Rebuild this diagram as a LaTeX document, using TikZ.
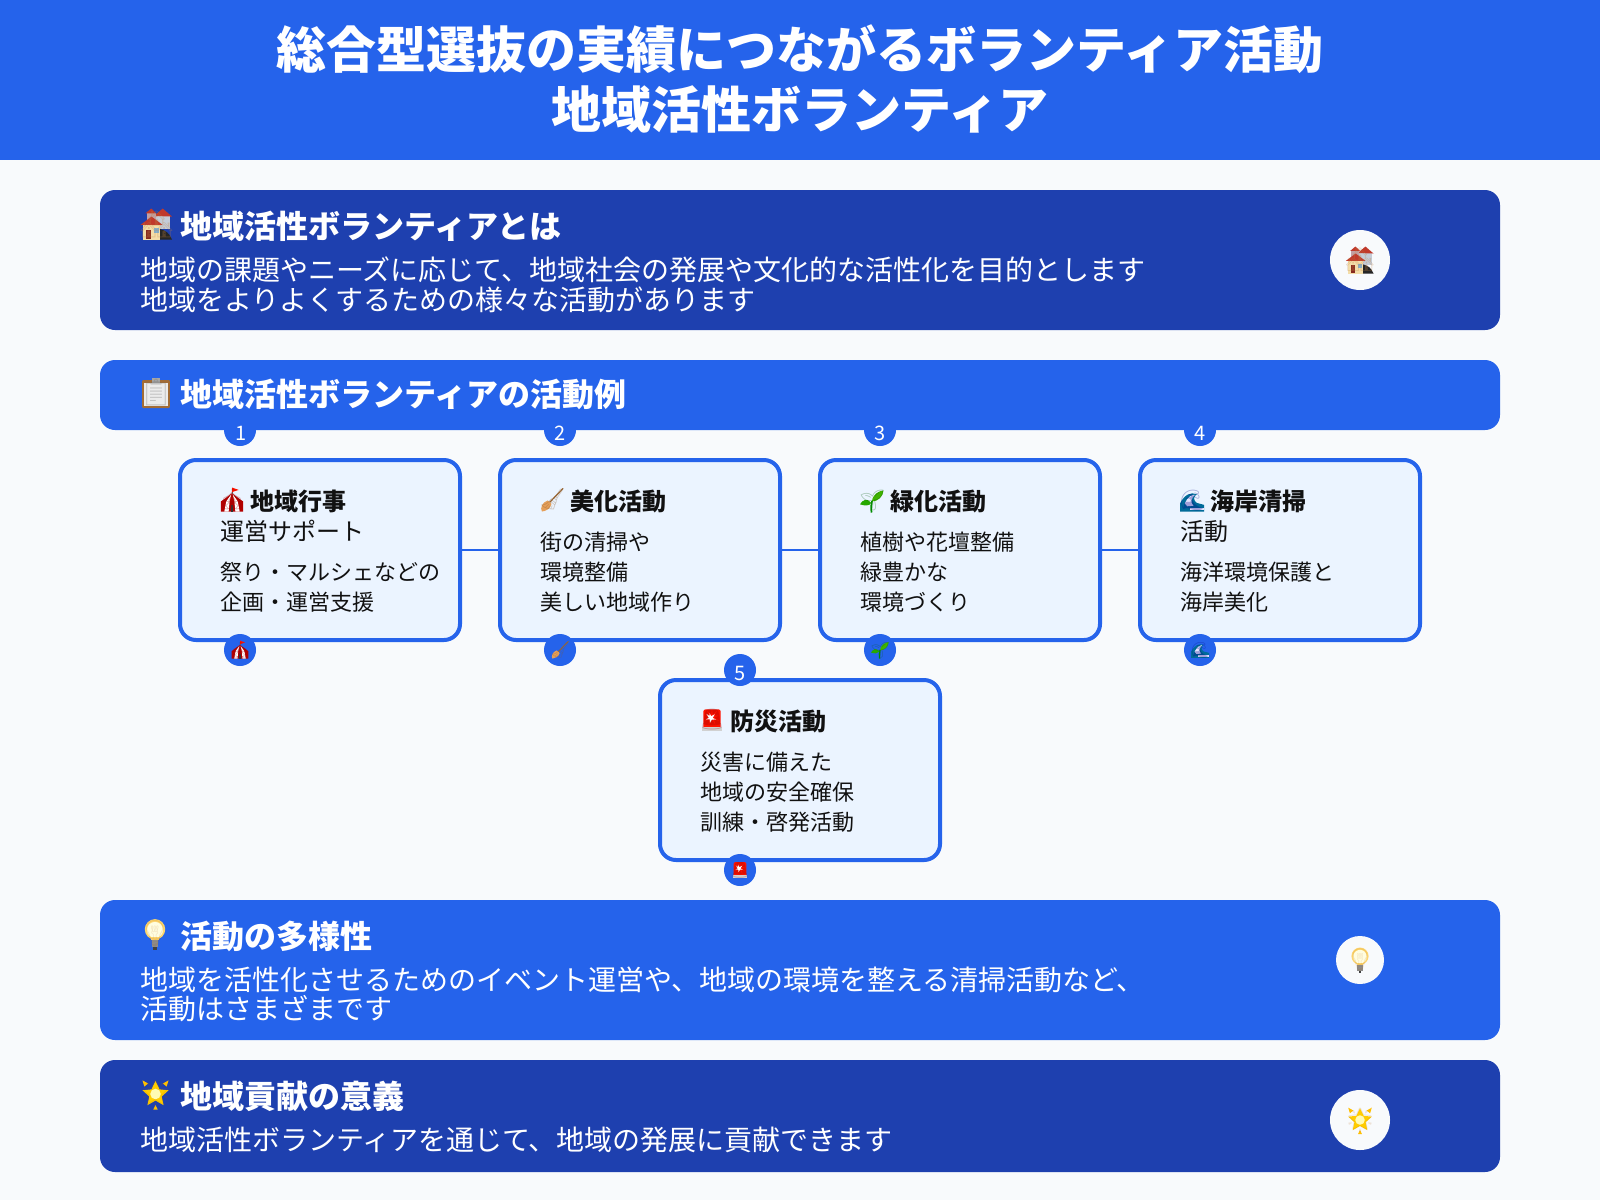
\documentclass[tikz,border=0pt]{standalone}
\usepackage{fontspec}
\setmainfont{Noto Sans CJK JP}
\newfontfamily\emofont{Noto Emoji}
\definecolor{bgc}{HTML}{F8FAFC}
\definecolor{blu}{HTML}{2563EB}
\definecolor{dark}{HTML}{1E40AF}
\definecolor{cardc}{HTML}{EBF4FF}
\definecolor{ink}{HTML}{111111}
\newcommand{\fsz}[1]{\fontsize{#1}{#1}\selectfont}
\tikzset{
  txt/.style={inner sep=0pt,outer sep=0pt,text height=#1*.88pt,text depth=#1*.12pt,font=\fsz{#1}},
  ltxt/.style={txt=#1,anchor=west},
  ptitle/.style={ltxt=32,text=white,font=\fsz{32}\bfseries},
  pbody/.style={ltxt=28,text=white},
  ctitle/.style={ltxt=24,text=ink,font=\fsz{24}\bfseries},
  csub/.style={ltxt=24,text=ink},
  cbody/.style={ltxt=22,text=ink},
  numtxt/.style={text=white,font=\fsz{20},inner sep=0pt},
  panel/.style={rectangle,rounded corners=15pt,minimum width=1400pt,inner sep=0pt,fill=#1},
  card/.style={rectangle,rounded corners=16pt,draw=blu,line width=4pt,fill=cardc,minimum width=280pt,minimum height=180pt,inner sep=0pt},
  badge/.style={circle,fill=blu,minimum size=32pt,inner sep=0pt},
  disc/.style={circle,fill=bgc,inner sep=0pt,minimum size=#1},
  conn/.style={draw=blu,line width=2pt},
  emo/.style={inner sep=0pt,outer sep=0pt,font=\emofont\fsz{#1}},
}
% Emoji: coloured underlay + real glyph. #1 name, #2 x, #3 y, #4 size
\newcommand{\glyphOn}[4]{\pgfmathsetmacro{\gs}{#3*.85}\node[emo=\gs,text=#4,text opacity=.3] (#1) at (0,0) {#2};}
\newcommand{\emoHouse}[4]{\begin{scope}[shift={(#2,#3)},x=#4pt,y=-#4pt]
  \fill[HG] (-.02,-.28) rectangle (.44,.17);
  \fill[HR] (-.08,-.26)--(.2,-.5)--(.5,-.24)--cycle;
  \fill[HG!70!HR] (-.32,-.36) rectangle (-.02,-.1);
  \fill[HR] (-.36,-.34)--(-.17,-.5)--(.0,-.34)--cycle;
  \fill[black!85] (.1,.16) .. controls (.3,.2) and (.42,.3) .. (.5,.5) -- (.1,.5) --cycle;
  \fill[HC] (-.44,-.03) rectangle (.12,.5);
  \fill[HR] (-.52,.03)--(-.16,-.24)--(.2,.03)--cycle;
  \fill[HR!70!black] (-.34,.18) rectangle (-.18,.48);
  \fill[HB] (-.08,.14) rectangle (.08,.3);
  \glyphOn{#1}{🏘}{#4}{brown}
\end{scope}}
\definecolor{HG}{HTML}{C4CCD8}\definecolor{HR}{HTML}{C0392B}\definecolor{HC}{HTML}{F3DDA9}\definecolor{HB}{HTML}{7FB2D6}
\newcommand{\emoClip}[4]{\begin{scope}[shift={(#2,#3)},x=#4pt,y=-#4pt]
  \fill[brown!85!black,rounded corners=1pt] (-.45,-.4) rectangle (.45,.5);
  \fill[black!8] (-.38,-.32) rectangle (.38,.42);
  \fill[black!35] (-.14,-.48) rectangle (.14,-.3);
  \glyphOn{#1}{📋}{#4}{black!60}
\end{scope}}
\newcommand{\emoTent}[4]{\begin{scope}[shift={(#2,#3)},x=#4pt,y=-#4pt]
  \fill[red!70!black] (-.46,.48) -- (-.46,.06) -- (0,-.28) -- (.46,.06) -- (.46,.48) -- cycle;
  \fill[white] (-.32,.48)--(-.24,.06)--(-.03,-.24)--(-.1,.06)--(-.14,.48)--cycle;
  \fill[white] (.32,.48)--(.24,.06)--(.03,-.24)--(.1,.06)--(.14,.48)--cycle;
  \fill[black!80] (-.06,.2) rectangle (.06,.48);
  \draw[black!60,line width=.6pt] (0,-.26) -- (0,-.5);
  \fill[red!85!orange] (0,-.52)--(.28,-.42)--(0,-.33)--cycle;
  \glyphOn{#1}{🎪}{#4}{red!60!black}
\end{scope}}
\newcommand{\emoBroom}[4]{\begin{scope}[shift={(#2,#3)},x=#4pt,y=-#4pt]
  \draw[brown!80!black,line width=.05*#4pt,line cap=round] (.46,-.48) -- (-.14,.14);
  \fill[brown!55!orange!75!white] (-.18,.02) -- (-.02,.16) .. controls (-.06,.36) and (-.24,.46) .. (-.42,.48) .. controls (-.5,.34) and (-.42,.1) .. (-.18,.02) -- cycle;
  \glyphOn{#1}{🧹}{#4}{brown!70!black}
\end{scope}}
\newcommand{\emoSprout}[4]{\begin{scope}[shift={(#2,#3)},x=#4pt,y=-#4pt]
  \draw[green!55!black,line width=.07*#4pt] (.0,.0) .. controls (-.05,.15) and (-.04,.3) .. (-.02,.48);
  \fill[green!60!black!85!yellow] (-.03,.08) .. controls (-.2,-.14) and (-.4,-.05) .. (-.5,.14) .. controls (-.3,.2) and (-.12,.22) .. (-.03,.08) -- cycle;
  \fill[green!60!black!75!yellow] (0,.02) .. controls (.02,-.28) and (.28,-.42) .. (.48,-.44) .. controls (.46,-.2) and (.26,.02) .. (0,.02) -- cycle;
\end{scope}}
\newcommand{\emoSproutGlyph}[4]{\begin{scope}[shift={(#2,#3)},x=#4pt,y=-#4pt]\glyphOn{#1}{🌱}{#4}{green!35!black}\end{scope}}
\newcommand{\emoWave}[4]{\begin{scope}[shift={(#2,#3)},x=#4pt,y=-#4pt]
  \fill[blue!30!cyan!60!black] (-.5,.44) -- (-.5,.1) .. controls (-.32,-.25) and (-.05,-.4) .. (.2,-.28) .. controls (.05,-.2) and (.05,-.02) .. (.2,.08) -- (.5,.16) -- (.5,.44) -- cycle;
  \fill[white!90!blue] (-.3,.1) .. controls (-.2,-.15) and (0,-.28) .. (.12,-.26) .. controls (-.04,-.12) and (-.08,.06) .. (.06,.2) -- (-.2,.22) -- cycle;
  \fill[white!90!blue] (-.1,.3) rectangle (.5,.37);
  \glyphOn{#1}{🌊}{#4}{blue!50!black}
\end{scope}}
\newcommand{\emoAlarm}[4]{\begin{scope}[shift={(#2,#3)},x=#4pt,y=-#4pt]
  \fill[red!85!orange,rounded corners=2pt] (-.36,-.44) rectangle (.36,.36);
  \fill[black!18] (-.4,.3) rectangle (.4,.46);
  \fill[white] (-.1,-.3)--(-.04,-.16)--(.12,-.24)--(.03,-.09)--(.16,-.02)--(0,-.02)--(-.08,.12)--(-.1,-.03)--(-.26,-.02)--(-.14,-.1)--(-.24,-.26)--(-.1,-.18)--cycle;
  \glyphOn{#1}{🚨}{#4}{red!55!black}
\end{scope}}
\newcommand{\emoBulb}[4]{\begin{scope}[shift={(#2,#3)},x=#4pt,y=-#4pt]
  \fill[black!45] (-.11,.18) rectangle (.11,.42);
  \fill[black!75] (-.05,.42) rectangle (.05,.5);
  \fill[yellow!45!orange!55!white] (0,-.15) circle (.33);
  \fill[yellow!12!white] (0,-.13) circle (.26);
  \fill[yellow!45!orange!55!white] (-.12,.1) rectangle (.12,.2);
\end{scope}}
\newcommand{\emoStar}[4]{\begin{scope}[shift={(#2,#3)},x=#4pt,y=-#4pt]
  \fill[orange!40!yellow] (0,-.42)--(.13,-.15)--(.42,-.12)--(.2,.08)--(.26,.36)--(0,.21)--(-.26,.36)--(-.2,.08)--(-.42,-.12)--(-.13,-.15)--cycle;
  \fill[yellow!30!white] (0,.0) circle (.17);
  \fill[orange!50!yellow] (-.42,-.44)--(-.24,-.34)--(-.36,-.24)--cycle (.42,-.44)--(.24,-.34)--(.36,-.24)--cycle (0,.36)--(.07,.5)--(-.07,.5)--cycle;
\end{scope}}
\newcommand{\emoLine}[5]{\pgfmathsetmacro{\gs}{#4*.85}\node[emo=\gs,text=#5,text opacity=.18] (#1) at (#2,#3) {};}
\begin{document}
\begin{tikzpicture}[x=1pt,y=-1pt]
\useasboundingbox (0,0) rectangle (1600,1200);
\fill[bgc] (0,0) rectangle (1600,1200);
\fill[blu] (0,0) rectangle (1600,160);
\node[txt=50,text=white,font=\fsz{50}\bfseries] (t1) at (800,49) {総合型選抜の実績につながるボランティア活動};
\node[txt=50,text=white,font=\fsz{50}\bfseries] (t2) at (800,109.5) {地域活性ボランティア};

% panels
\node[panel=dark,minimum height=140pt] (p1) at (800,260) {};
\emoHouse{p1e}{156.5}{224}{31}
\node[ptitle] (p1t) at (180,226.5) {地域活性ボランティアとは};
\node[pbody] (p1a) at (140,270) {地域の課題やニーズに応じて、地域社会の発展や文化的な活性化を目的とします};
\node[pbody] (p1b) at (140,299.5) {地域をよりよくするための様々な活動があります};
\node[disc=60pt] (p1d) at (1360,260) {};
\emoHouse{p1de}{1360}{260}{27}

% number badges behind the section bar
\foreach \n/\x in {n1/240,n2/560,n3/880,n4/1200}{
  \node[badge] (\n) at (\x,430) {};
}
\node[panel=blu,minimum height=70pt] (p2) at (800,395) {};
\emoClip{p2e}{156}{392.5}{31}
\node[ptitle] (p2t) at (180,394.5) {地域活性ボランティアの活動例};
\node[numtxt] (l1) at (241,433.5) {1};
\node[numtxt] (l2) at (560.5,433.5) {2};
\node[numtxt] (l3) at (880.5,433.5) {3};
\node[numtxt] (l4) at (1200.5,433.5) {4};

% cards
\node[card] (c1) at (320,550) {};
\node[card] (c2) at (640,550) {};
\node[card] (c3) at (960,550) {};
\node[card] (c4) at (1280,550) {};
\node[card] (c5) at (800,770) {};
\draw[conn] (c1) -- (c2);
\draw[conn] (c2) -- (c3);
\draw[conn] (c3) -- (c4);

% card 1
\emoTent{c1e}{232}{500}{24}
\node[ctitle] (c1t) at (250,501.5) {地域行事};
\node[csub] (c1s) at (220,531.5) {運営サポート};
\node[cbody] (c1a) at (220,572.5) {祭り・マルシェなどの};
\node[cbody] (c1b) at (220,602.5) {企画・運営支援};
% card 2
\emoBroom{c2e}{552}{500}{24}
\node[ctitle] (c2t) at (570,501.5) {美化活動};
\node[cbody] (c2a) at (540,542.5) {街の清掃や};
\node[cbody] (c2b) at (540,572.5) {環境整備};
\node[cbody] (c2c) at (540,602.5) {美しい地域作り};
% card 3
\emoSprout{c3u}{872}{501}{24}
\emoSproutGlyph{c3e}{872}{501}{24}
\node[ctitle] (c3t) at (890,501.5) {緑化活動};
\node[cbody] (c3a) at (860,542.5) {植樹や花壇整備};
\node[cbody] (c3b) at (860,572.5) {緑豊かな};
\node[cbody] (c3c) at (860,602.5) {環境づくり};
% card 4
\emoWave{c4e}{1192}{501}{24}
\node[ctitle] (c4t) at (1210,501.5) {海岸清掃};
\node[csub] (c4s) at (1180,531.5) {活動};
\node[cbody] (c4a) at (1180,572.5) {海洋環境保護と};
\node[cbody] (c4b) at (1180,602.5) {海岸美化};
% card 5
\emoAlarm{c5e}{712}{720}{24}
\node[ctitle] (c5t) at (730,721.5) {防災活動};
\node[cbody] (c5a) at (700,762.5) {災害に備えた};
\node[cbody] (c5b) at (700,792.5) {地域の安全確保};
\node[cbody] (c5c) at (700,822.5) {訓練・啓発活動};

% bottom badges
\node[badge] (b1) at (240,650) {};
\emoTent{b1e}{240}{650}{18}
\node[badge] (b2) at (560,650) {};
\emoBroom{b2e}{560}{650}{18}
\node[badge] (b3) at (880,650) {};
\emoSprout{b3u}{880}{650}{18}
\emoSproutGlyph{b3e}{880}{650}{18}
\node[badge] (b4) at (1200,650) {};
\emoWave{b4e}{1200}{650}{18}
\node[badge] (n5) at (740,670) {};
\node[numtxt] (l5) at (740.5,673) {5};
\node[badge] (b5) at (740,870) {};
\emoAlarm{b5e}{740}{870}{18}

% panel 3
\node[panel=blu,minimum height=140pt] (p3) at (800,970) {};
\emoBulb{p3u}{155}{934}{31}
\node[emo=26,text=orange!70!black,text opacity=.15] (p3e) at (155,934) {💡};
\node[ptitle] (p3t) at (180,936.5) {活動の多様性};
\node[pbody] (p3a) at (140,979.5) {地域を活性化させるためのイベント運営や、地域の環境を整える清掃活動など、};
\node[pbody] (p3b) at (140,1009) {活動はさまざまです};
\node[disc=48pt] (p3d) at (1360,960) {};
\emoBulb{p3du}{1360}{960}{26}
\node[emo=22,text=orange!70!black,text opacity=.15] (p3de) at (1360,960) {💡};

% panel 4
\node[panel=dark,minimum height=112pt] (p4) at (800,1116) {};
\emoStar{p4u}{155.5}{1094}{31}
\node[emo=26,text=orange!70!black,text opacity=.15] (p4e) at (155.5,1094) {🌟};
\node[ptitle] (p4t) at (180,1096) {地域貢献の意義};
\node[pbody] (p4a) at (140,1139.5) {地域活性ボランティアを通じて、地域の発展に貢献できます};
\node[disc=60pt] (p4d) at (1360,1120) {};
\emoStar{p4du}{1360}{1120}{28}
\node[emo=24,text=orange!70!black,text opacity=.15] (p4de) at (1360,1120) {🌟};
\end{tikzpicture}
\end{document}
